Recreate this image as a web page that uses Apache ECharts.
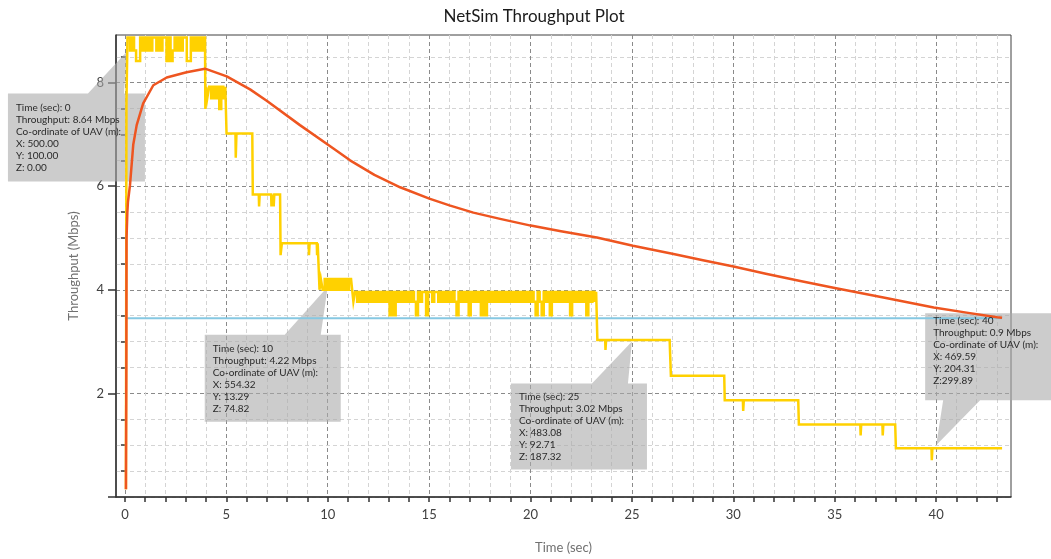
<!DOCTYPE html>
<html>
<head>
<meta charset="utf-8">
<script src="https://cdn.jsdelivr.net/npm/echarts@6/dist/echarts.min.js"></script>
<style>
html,body{margin:0;padding:0;background:#fff;}
#main{width:1051px;height:559px;}
</style>
</head>
<body>
<div id="main"></div>
<script>
// ---------- DATA ----------
const titleText = 'NetSim Throughput Plot';
const xAxisName = 'Time (sec)';
const yAxisName = 'Throughput (Mbps)';

const xLabelValues = [0, 5, 10, 15, 20, 25, 30, 35, 40];
const xTickValues = [0,1,2,3,4,5,6,7,8,9,10,11,12,13,14,15,16,17,18,19,20,21,22,23,24,25,26,27,28,29,30,31,32,33,34,35,36,37,38,39,40,41,42,43];
const xMinorGrid = [1,2,3,4,6,7,8,9,11,12,13,14,16,17,18,19,21,22,23,24,26,27,28,29,31,32,33,34,36,37,38,39,41,42,43];
const xMajorGrid = [0, 5, 10, 15, 20, 25, 30, 35, 40];
const yLabelValues = [2, 4, 6, 8];
const yMajorTicks = [0, 2, 4, 6, 8];
const yMinorTicks = [0.5,1,1.5,2.5,3,3.5,4.5,5,5.5,6.5,7,7.5,8.5];

// yellow series: throughput samples [time, Mbps]
const yellowRiseTop = [
  [0.05,0.15],[0.1,7.6],[0.15,8.87],[0.2,8.87],[0.3,8.62],[0.4,8.87],[0.5,8.62],[0.6,8.42],[0.7,8.42],
  [0.8,8.87],[0.9,8.62],[1.0,8.87],[1.1,8.62],[1.2,8.87],[1.3,8.62],[1.4,8.87],[1.5,8.87],[1.6,8.62],
  [1.7,8.87],[1.8,8.62],[1.9,8.87],[2.0,8.87],[2.1,8.42],[2.2,8.87],[2.3,8.42],[2.4,8.62],[2.5,8.87],
  [2.6,8.62],[2.7,8.87],[2.8,8.62],[2.9,8.87],[3.0,8.87],[3.1,8.42],[3.2,8.42],[3.3,8.87],[3.4,8.62],
  [3.5,8.87],[3.6,8.62],[3.7,8.87],[3.8,8.62],[3.9,8.87],[3.95,8.87]
];
const yellowBand79 = [
  [3.98,7.49],[4.02,7.92],[4.1,7.70],[4.2,7.92],[4.3,7.70],[4.4,7.92],[4.5,7.70],[4.6,7.92],
  [4.7,7.49],[4.8,7.92],[4.9,7.70],[5.0,7.92]
];
const yellowSteps1 = [
  [5.02,7.02],[5.45,7.02],[5.48,6.55],[5.52,7.02],[6.28,7.02],[6.33,5.84],[6.6,5.84],[6.63,5.61],
  [6.66,5.84],[7.21,5.84],[7.24,5.61],[7.27,5.84],[7.32,5.84],[7.35,5.61],[7.38,5.84],[7.65,5.84],
  [7.7,4.67],[7.78,4.9],[9.06,4.9],[9.09,4.67],[9.12,4.9],[9.46,4.9],[9.49,4.67],[9.52,4.9],[9.57,4.9]
];
const yellowBand41 = [
  [9.62,4.0],[9.7,4.21],[9.8,4.0],[9.9,4.21],[10.0,4.0],[10.1,4.21],[10.2,4.0],[10.3,4.21],[10.4,4.0],
  [10.5,4.21],[10.6,4.0],[10.7,4.21],[10.8,4.0],[10.9,4.21],[11.0,4.0],[11.1,4.21],[11.2,4.21]
];
const yellowBand39 = [
  [11.23,3.96],[11.3,3.77],[11.4,3.96],[11.5,3.77],[11.6,3.96],[11.7,3.77],[11.8,3.96],[11.9,3.77],
  [12.0,3.96],[12.1,3.77],[12.2,3.96],[12.3,3.77],[12.4,3.96],[12.5,3.77],[12.6,3.96],[12.7,3.77],
  [12.8,3.96],[12.9,3.77],[13.0,3.96],[13.1,3.51],[13.2,3.96],[13.3,3.51],[13.4,3.96],[13.5,3.77],
  [13.6,3.96],[13.7,3.77],[13.8,3.96],[13.9,3.77],[14.0,3.96],[14.1,3.77],[14.2,3.96],[14.3,3.77],
  [14.4,3.51],[14.5,3.96],[14.6,3.77],[14.7,3.96],[14.8,3.96],[14.9,3.51],[15.0,3.96],[15.1,3.96],
  [15.2,3.77],[15.3,3.96],[15.4,3.96],[15.5,3.77],[15.6,3.96],[15.7,3.77],[15.8,3.96],[15.9,3.77],
  [16.0,3.96],[16.1,3.77],[16.2,3.96],[16.3,3.77],[16.4,3.51],[16.5,3.96],[16.6,3.77],[16.7,3.96],
  [16.8,3.77],[16.9,3.96],[17.0,3.51],[17.1,3.96],[17.2,3.77],[17.3,3.96],[17.4,3.77],[17.5,3.96],
  [17.6,3.51],[17.7,3.96],[17.8,3.51],[17.9,3.96],[18.0,3.77],[18.1,3.96],[18.2,3.77],[18.3,3.96],
  [18.4,3.77],[18.5,3.96],[18.6,3.77],[18.7,3.96],[18.8,3.77],[18.9,3.96],[19.0,3.77],[19.1,3.96],
  [19.2,3.77],[19.3,3.96],[19.4,3.77],[19.5,3.96],[19.6,3.77],[19.7,3.96],[19.8,3.77],[19.9,3.96],
  [20.0,3.77],[20.1,3.96],[20.2,3.77],[20.3,3.51],[20.4,3.96],[20.5,3.77],[20.6,3.51],[20.7,3.96],
  [20.8,3.77],[20.9,3.96],[21.0,3.51],[21.1,3.96],[21.2,3.77],[21.3,3.96],[21.4,3.77],[21.5,3.96],
  [21.6,3.77],[21.7,3.96],[21.8,3.77],[21.9,3.96],[22.0,3.51],[22.1,3.96],[22.2,3.77],[22.3,3.96],
  [22.4,3.77],[22.5,3.96],[22.6,3.77],[22.7,3.96],[22.8,3.51],[22.9,3.96],[23.0,3.77],[23.1,3.96],
  [23.2,3.77],[23.27,3.96]
];
const yellowSteps2 = [
  [23.32,3.03],[23.68,3.03],[23.71,2.84],[23.74,3.03],[26.86,3.03],[26.89,2.84],[26.95,2.34],[29.55,2.34],
  [29.6,1.87],[30.47,1.87],[30.5,1.66],[30.53,1.87],[33.2,1.87],[33.26,1.4],[36.26,1.4],[36.29,1.19],
  [36.32,1.4],[37.35,1.4],[37.38,1.19],[37.41,1.4],[37.98,1.4],[38.05,0.94],[39.77,0.94],[39.8,0.71],
  [39.83,0.94],[43.25,0.94]
];

// orange curve
const orangeCurve = [
  [0.05,0.15],[0.07,2.5],[0.08,5.0],[0.12,5.5],[0.15,5.7],[0.25,6.02],[0.41,6.8],[0.58,7.18],[0.9,7.6],
  [1.4,7.95],[2.06,8.1],[3.04,8.2],[3.95,8.27],[5.02,8.12],[6.17,7.87],[6.99,7.65],[8.63,7.18],
  [10.28,6.73],[11.1,6.5],[12.3,6.22],[13.57,5.98],[15.01,5.76],[16.0,5.63],[17.18,5.49],[18.5,5.37],
  [20.01,5.24],[21.5,5.13],[23.27,5.01],[25.05,4.85],[27.05,4.69],[28.5,4.57],[30.01,4.45],[31.6,4.31],
  [33.3,4.17],[34.94,4.04],[37.4,3.85],[39.88,3.66],[41.5,3.56],[43.0,3.47],[43.25,3.46]
];

// light blue horizontal line
const blueLine = [[0,3.45],[43.25,3.45]];

// callout annotations: anchor [time, Mbps] + text lines
const calloutAnchors = [[0.1, 8.6], [10, 4.06], [25, 3.0], [40, 1.0]];
const calloutTexts = [
  ['Time (sec): 0','Throughput: 8.64 Mbps','Co-ordinate of UAV (m):','X: 500.00','Y: 100.00','Z: 0.00'],
  ['Time (sec): 10','Throughput: 4.22 Mbps','Co-ordinate of UAV (m):','X: 554.32','Y: 13.29','Z: 74.82'],
  ['Time (sec): 25','Throughput: 3.02 Mbps','Co-ordinate of UAV (m):','X: 483.08','Y: 92.71','Z: 187.32'],
  ['Time (sec): 40','Throughput: 0.9 Mbps','Co-ordinate of UAV (m):','X: 469.59','Y: 204.31','Z:299.89']
];

// ---------- CHART ----------
const FONT = 'Lato';
const chart = echarts.init(document.getElementById('main'), null, {renderer: 'canvas'});

const XMIN = -0.44, XMAX = 43.69, YMIN = 0, YMAX = 8.92;
const lightGrid = {show: true, lineStyle: {color: '#d4d4d4', width: 1, type: [4, 3]}};
const darkGrid = {show: true, lineStyle: {color: '#8a8a8a', width: 1, type: [4, 3]}};
const hiddenAxisBase = {
  axisLine: {show: false}, axisTick: {show: false}, axisLabel: {show: false}
};

const yellowData = [].concat(yellowRiseTop, yellowBand79, yellowSteps1, yellowBand41, yellowBand39, yellowSteps2);

chart.setOption({
  animation: false,
  backgroundColor: '#ffffff',
  textStyle: {fontFamily: FONT},
  grid: {left: 116, right: 40, top: 35, bottom: 62, show: true, borderColor: '#404040', borderWidth: 1,
         backgroundColor: 'transparent', containLabel: false, outerBoundsMode: 'none'},
  xAxis: [
    {
      type: 'value', min: XMIN, max: XMAX, position: 'bottom',
      name: xAxisName, nameLocation: 'middle', nameGap: 44,
      nameTextStyle: {color: '#707070', fontSize: 13, fontFamily: FONT},
      axisLine: {show: true, onZero: false, lineStyle: {color: '#333', width: 1.5}},
      axisTick: {show: true, inside: false, length: 5, customValues: xTickValues, lineStyle: {color: '#333', width: 1.5}},
      axisLabel: {show: true, customValues: xLabelValues, margin: 11, color: '#404040', fontSize: 13, fontFamily: FONT},
      splitLine: {show: false}
    },
    Object.assign({type: 'value', min: XMIN, max: XMAX, position: 'bottom', splitLine: lightGrid}, hiddenAxisBase,
      {axisTick: {show: false, customValues: xMinorGrid}}),
    Object.assign({type: 'value', min: XMIN, max: XMAX, position: 'bottom', splitLine: darkGrid}, hiddenAxisBase,
      {axisTick: {show: false, customValues: xMajorGrid}})
  ],
  yAxis: [
    {
      type: 'value', min: YMIN, max: YMAX, position: 'left',
      name: yAxisName, nameLocation: 'middle', nameGap: 36, nameRotate: 90,
      nameTextStyle: {color: '#707070', fontSize: 13, fontFamily: FONT},
      axisLine: {show: true, onZero: false, lineStyle: {color: '#333', width: 1.5}},
      axisTick: {show: true, inside: false, length: 8, customValues: yMajorTicks, lineStyle: {color: '#333', width: 1.5}},
      axisLabel: {show: true, customValues: yLabelValues, margin: 12, color: '#404040', fontSize: 13, fontFamily: FONT},
      splitLine: darkGrid
    },
    {
      type: 'value', min: YMIN, max: YMAX, position: 'left',
      axisLine: {show: false},
      axisTick: {show: true, inside: false, length: 4, customValues: yMinorTicks, lineStyle: {color: '#333', width: 1.5}},
      axisLabel: {show: false},
      splitLine: lightGrid
    }
  ],
  series: [
    {type: 'line', name: 'threshold', data: blueLine, xAxisIndex: 0, yAxisIndex: 0, showSymbol: false, symbol: 'none',
     lineStyle: {color: '#86c8e2', width: 2}, z: 3},
    {type: 'line', name: 'throughput', data: yellowData, xAxisIndex: 0, yAxisIndex: 0, showSymbol: false, symbol: 'none',
     step: 'middle', lineStyle: {color: '#ffd100', width: 2.5, join: 'miter'}, z: 4},
    {type: 'line', name: 'trend', data: orangeCurve, xAxisIndex: 0, yAxisIndex: 0, showSymbol: false, symbol: 'none',
     smooth: false, lineStyle: {color: '#ee5520', width: 2.5, join: 'round'}, z: 5}
  ]
});

// ---------- CALLOUTS positioned from their data anchors ----------
// shape offsets (pixels) relative to the anchor tip
const calloutShapes = [
  {box: [-119, 42, 137, 88], base: [-39, -3], below: true, text: [-111, 50]},
  {box: [-123, 48, 136, 87], base: [-43, -7], below: true, text: [-115, 56]},
  {box: [-121, 42, 136, 86], base: [-40, -4], below: true, text: [-113, 49]},
  {box: [-11, -132, 136, 87], base: [7, 44], below: false, text: [-3, -130]}
];
const graphics = [];
calloutAnchors.forEach(function (a, i) {
  const p = chart.convertToPixel({xAxisIndex: 0, yAxisIndex: 0}, a);
  const s = calloutShapes[i];
  const bx = p[0] + s.box[0], by = p[1] + s.box[1], bw = s.box[2], bh = s.box[3];
  let pts;
  if (s.below) {
    pts = [[bx, by], [p[0] + s.base[0], by], [p[0], p[1]], [p[0] + s.base[1], by], [bx + bw, by],
           [bx + bw, by + bh], [bx, by + bh]];
  } else {
    const bb = by + bh;
    pts = [[bx, by], [bx + bw, by], [bx + bw, bb], [p[0] + s.base[1], bb], [p[0], p[1]],
           [p[0] + s.base[0], bb], [bx, bb]];
  }
  graphics.push({type: 'polygon', shape: {points: pts}, style: {fill: 'rgba(170,170,170,0.6)'}, z: 1, silent: true});
  graphics.push({type: 'text', x: p[0] + s.text[0], y: p[1] + s.text[1], z: 6, silent: true,
    style: {text: calloutTexts[i].join('\n'), fill: '#2a2a2a', font: '10px ' + FONT, lineHeight: 12,
            textAlign: 'left', textVerticalAlign: 'top'}});
});
graphics.push({type: 'text', x: 534, y: 8, silent: true,
  style: {text: titleText, fill: '#1a1a1a', font: '17px ' + FONT, textAlign: 'center', textVerticalAlign: 'top'}});
chart.setOption({graphic: graphics});
</script>
</body>
</html>
